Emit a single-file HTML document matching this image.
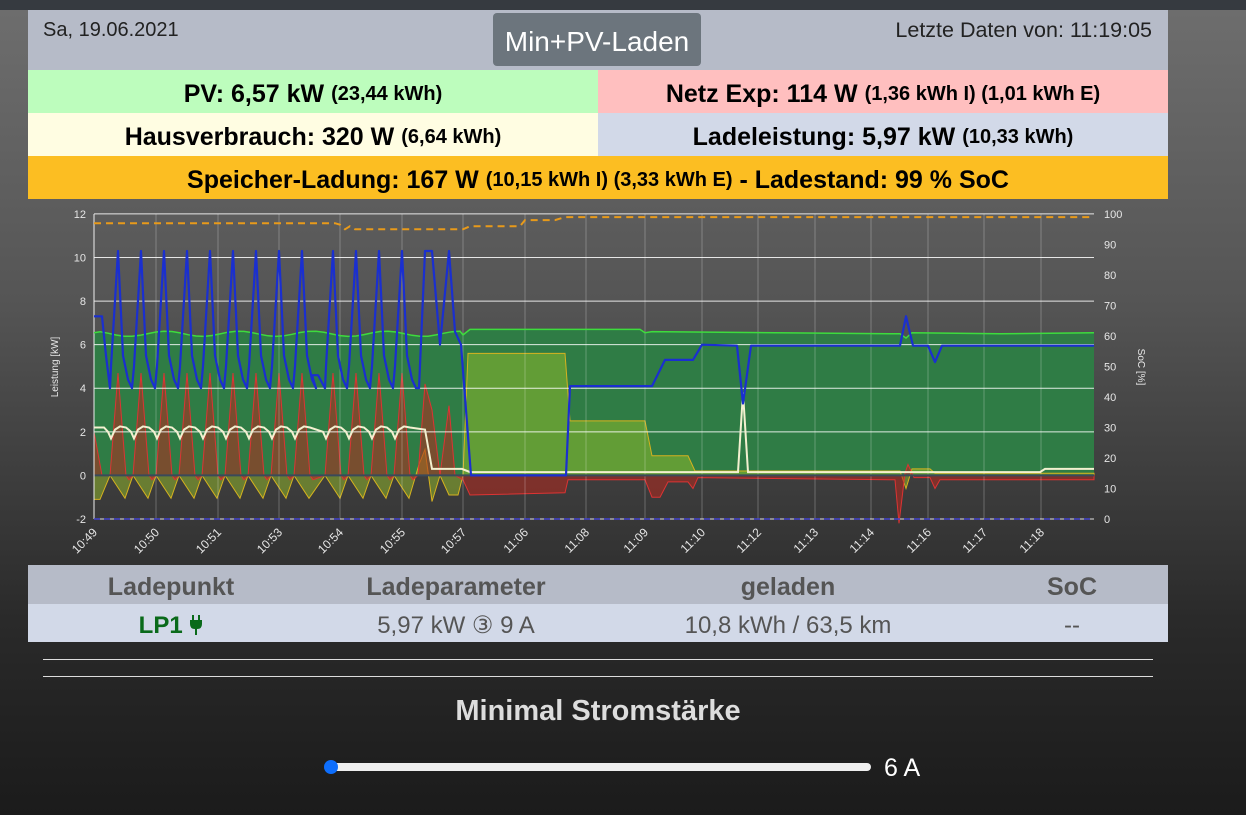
<!DOCTYPE html>
<html><head><meta charset="utf-8"><style>
*{margin:0;padding:0;box-sizing:border-box}
body{width:1246px;height:815px;overflow:hidden;font-family:"Liberation Sans",sans-serif;background:linear-gradient(#6e6e6e 0px,#555 300px,#2a2a2a 620px,#1b1b1b 815px);position:relative}
.abs{position:absolute}
.topbar{left:0;top:0;width:1246px;height:10px;background:#363a40}
.hdr{left:28px;top:10px;width:1140px;height:60px;background:#b6bbc8}
.row{position:absolute;height:43px;display:flex;align-items:center;justify-content:center;font-weight:bold;font-size:25px;color:#000;white-space:nowrap;padding-top:6px}
.row small{font-size:20px;margin-left:7px}
.th{position:absolute;top:565px;height:39px;font-size:25px;font-weight:bold;color:#555;text-align:center;line-height:44px}
.td{position:absolute;top:604px;height:38px;font-size:24px;color:#555;text-align:center;line-height:44px}
</style></head><body>
<div class="abs topbar"></div>
<div class="abs hdr"></div>
<div class="abs" style="left:43px;top:19px;font-size:20px;color:#222">Sa, 19.06.2021</div>
<div class="abs" style="left:493px;top:13px;width:208px;height:53px;background:#6c757d;border-radius:4px;color:#fff;font-size:28px;line-height:58px;text-align:center">Min+PV-Laden</div>
<div class="abs" style="right:94px;top:18px;font-size:21.5px;color:#222">Letzte Daten von: 11:19:05</div>
<div class="row" style="left:28px;top:70px;width:570px;background:#bdfdbd">PV: 6,57 kW<small>(23,44 kWh)</small></div>
<div class="row" style="left:598px;top:70px;width:570px;background:#ffbfbf">Netz Exp: 114 W<small>(1,36 kWh I) (1,01 kWh E)</small></div>
<div class="row" style="left:28px;top:113px;width:570px;background:#fffde2">Hausverbrauch: 320 W<small>(6,64 kWh)</small></div>
<div class="row" style="left:598px;top:113px;width:570px;background:#d2d9e8">Ladeleistung: 5,97 kW<small>(10,33 kWh)</small></div>
<div class="row" style="left:28px;top:156px;width:1140px;background:#fcbe22">Speicher-Ladung: 167 W<small>(10,15 kWh I) (3,33 kWh E)</small>&nbsp;- Ladestand: 99 % SoC</div>

<svg class="abs" style="left:0;top:0" width="1246" height="815" id="ch">
<g id="fills"></g><g id="grid"></g><g id="lines"></g><g id="labels" font-family="Liberation Sans, sans-serif" font-size="11" fill="#e6e6e6"></g>
</svg>

<div class="abs" style="left:28px;top:565px;width:1140px;height:39px;background:#b6bbc8"></div>
<div class="abs" style="left:28px;top:604px;width:1140px;height:38px;background:#d2d9e8"></div>
<div class="th" style="left:71px;width:200px">Ladepunkt</div>
<div class="th" style="left:326px;width:260px">Ladeparameter</div>
<div class="th" style="left:688px;width:200px">geladen</div>
<div class="th" style="left:1022px;width:100px">SoC</div>
<div class="td" style="left:71px;width:200px;color:#0a6a1a;font-weight:bold">LP1 <svg width="14" height="20" viewBox="0 0 14 20" style="vertical-align:-2px"><rect x="3" y="0" width="2" height="5" fill="#0a6a1a"/><rect x="9" y="0" width="2" height="5" fill="#0a6a1a"/><path d="M1 5 H13 V9 Q13 14 8 14 V20 H6 V14 Q1 14 1 9 Z" fill="#0a6a1a"/></svg></div>
<div class="td" style="left:306px;width:300px">5,97 kW ③ 9 A</div>
<div class="td" style="left:638px;width:300px">10,8 kWh / 63,5 km</div>
<div class="td" style="left:1022px;width:100px">--</div>
<div class="abs" style="left:43px;top:659px;width:1110px;height:1px;background:#ddd"></div>
<div class="abs" style="left:43px;top:676px;width:1110px;height:1px;background:#ddd"></div>
<div class="abs" style="left:298px;top:695px;width:600px;text-align:center;font-size:29px;font-weight:bold;color:#ddd">Minimal Stromstärke</div>
<div class="abs" style="left:330px;top:763px;width:541px;height:8px;background:#eee;border-radius:4px"></div>
<div class="abs" style="left:324px;top:760px;width:14px;height:14px;background:#0d6efd;border-radius:50%"></div>
<div class="abs" style="left:884px;top:754px;font-size:25px;color:#fff">6 A</div>

<script>
const NS="http://www.w3.org/2000/svg";
function el(p,t,a){const e=document.createElementNS(NS,t);for(const k in a)e.setAttribute(k,a[k]);document.getElementById(p).appendChild(e);return e;}
const X0=94,X1=1094;
const Y=v=>475.4-v*21.79, S=s=>519-s*3.05;
const peaks=[118,141,164,187,210,233,256,279,302,333,356,379,402];
let blue=[[94,7.3],[102,7.3],[106,5.5],[110,4]];
peaks.forEach((p,i)=>{blue.push([p-7,5],[p,10.3],[p+5,5.5],[p+10,4.4],[p+14,4]);if(i==8){blue.push([p+10,4.6],[p+16,4.6],[p+23,4]);}});
blue.push([419,4],[425,10.3],[432,10.3],[440,6],[449,10.3],[455,6.6],[461,6],[471,0],[566,0],[570,4.1],[652,4.1],[665,5.3],[693,5.3],[702,6],[737,5.95],[743,3.3],[751,5.95],[900,5.95],[906,7.3],[913,5.95],[928,5.95],[935,5.2],[942,5.95],[1094,5.95]);
let house=[[94,2.2],[104,2.2]];
peaks.forEach(p=>{house.push([p-10,2.0],[p-7,1.7],[p-3,2.1],[p+2,2.25],[p+8,2.2]);});
house.push([425,2.1],[432,0.3],[462,0.3],[470,0.15],[738,0.15],[743,3.8],[748,0.15],[1040,0.15],[1045,0.3],[1094,0.3]);
let red=[[94,2.0],[102,0]];
peaks.forEach(p=>{red.push([p-8,0],[p,4.7],[p+8,0],[p+11,-0.2]);});
red.push([418,0],[425,4.2],[432,3],[440,0],[449,3.2],[455,0],[463,-0.2],[470,-0.9],[565,-0.8],[568,-0.2],[645,-0.2],[652,-1.0],[660,-1.0],[668,-0.3],[688,-0.3],[693,-0.6],[698,-0.1],[895,-0.2],[899,-2.2],[905,0.1],[908,0.5],[914,-0.1],[930,-0.1],[935,-0.6],[940,-0.2],[1094,-0.2]);
let bat=[[94,-1.1],[100,-1.1]];
peaks.forEach(p=>{bat.push([p-8,0],[p+7,-1.05]);});
bat.push([419,0.5],[425,1.2],[432,-1.2],[440,0],[449,-0.9],[458,-0.9],[463,0],[468,5.6],[565,5.6],[570,2.5],[645,2.5],[652,0.9],[688,0.9],[695,0.2],[900,0.2],[906,-0.6],[912,0.3],[930,0.3],[935,0.1],[1094,0.1]);
let pv=[[94,6.55]];
for(let x=100;x<=460;x+=8)pv.push([x,6.5+0.12*Math.sin(x*0.7)]);
pv.push([463,6.45],[470,6.7],[640,6.7],[645,6.55],[652,6.6],[900,6.5],[906,6.3],[912,6.55],[1000,6.5],[1094,6.55]);
function path(arr,area){let d=arr.map((p,i)=>(i?'L':'M')+p[0].toFixed(1)+','+Y(p[1]).toFixed(1)).join(' ');if(area)d+=` L${arr[arr.length-1][0]},${Y(0)} L${arr[0][0]},${Y(0)} Z`;return d;}
el('fills','path',{d:path(pv,1),fill:'#2f7c45'});
el('fills','path',{d:path(bat,1),fill:'rgba(150,190,40,0.5)',stroke:'#d6b21f','stroke-width':1});
el('fills','path',{d:path(red,1),fill:'rgba(180,40,30,0.55)',stroke:'#d33','stroke-width':1});
const ticks=[[94,'10:49'],[156,'10:50'],[218,'10:51'],[279,'10:53'],[340,'10:54'],[402,'10:55'],[463,'10:57'],[525,'11:06'],[586,'11:08'],[645,'11:09'],[702,'11:10'],[758,'11:12'],[815,'11:13'],[871,'11:14'],[928,'11:16'],[984,'11:17'],[1041,'11:18']];
ticks.forEach(t=>{el('grid','line',{x1:t[0],x2:t[0],y1:214,y2:519,stroke:'rgba(255,255,255,0.25)','stroke-width':1});
 const tx=el('labels','text',{x:t[0]+4,y:533,'text-anchor':'end','font-size':'12',transform:`rotate(-45 ${t[0]+4} 533)`});tx.textContent=t[1];});
for(let v=-2;v<=12;v+=2){el('grid','line',{x1:X0,x2:X1,y1:Y(v),y2:Y(v),stroke:v==0?'#3a4a5a':'rgba(255,255,255,0.85)','stroke-width':v==0?2:1});
 const tx=el('labels','text',{x:86,y:Y(v)+4,'text-anchor':'end'});tx.textContent=v;}
for(let s=0;s<=100;s+=10){const tx=el('labels','text',{x:1104,y:S(s)+4});tx.textContent=s;}
el('grid','line',{x1:X0,x2:X0,y1:214,y2:519,stroke:'#eee','stroke-width':1});
let t1=el('labels','text',{x:0,y:0,transform:'translate(58 367) rotate(-90)','text-anchor':'middle','font-size':'10'});t1.textContent='Leistung [kW]';
let t2=el('labels','text',{x:0,y:0,transform:'translate(1138 367) rotate(90)','text-anchor':'middle','font-size':'10'});t2.textContent='SoC [%]';
el('lines','path',{d:path(pv,0),fill:'none',stroke:'#3ddc3d','stroke-width':1.5});
el('lines','path',{d:path(house,0),fill:'none',stroke:'#f3f0d0','stroke-width':2});
el('lines','path',{d:path(blue,0),fill:'none',stroke:'#1a2fd0','stroke-width':2.2,'stroke-linejoin':'round'});
el('lines','line',{x1:X0,x2:X1,y1:519,y2:519,stroke:'#4444cc','stroke-width':1.5,'stroke-dasharray':'6 4'});
const soc=[[94,97],[335,97],[340,96.5],[345,95],[350,96],[355,95],[463,95],[470,96],[520,96],[525,98],[555,98],[565,99],[1094,99]];
el('lines','path',{d:soc.map((p,i)=>(i?'L':'M')+p[0]+','+S(p[1]).toFixed(1)).join(' '),fill:'none',stroke:'#e89a1a','stroke-width':2,'stroke-dasharray':'7 5'});
</script>
</body></html>
